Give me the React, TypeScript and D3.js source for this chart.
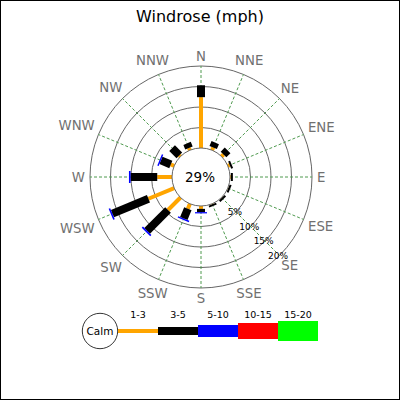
import React from 'react';
import * as d3 from 'd3';

const title = 'Windrose (mph)';
const directions = ['N', 'NNE', 'NE', 'ENE', 'E', 'ESE', 'SE', 'SSE', 'S', 'SSW', 'SW', 'WSW', 'W', 'WNW', 'NW', 'NNW'];
const rangeLabels = ['1-3', '3-5', '5-10', '10-15', '15-20'];
const rangeColors = ['#ffa500', '#000000', '#0000ff', '#ff0000', '#00ff00'];
const rangeWidths = [4, 8, 12, 16, 20];

// percent of time per direction, one list per speed range
const range1 = [12.4, 0.7, 0.7, 0.5, 0.2, 0.1, 0.1, 0.1, 0.7, 1.3, 4.3, 6.8, 3.6, 0.9, 0.4, 0.6];
const range2 = [2.9, 1.3, 1.4, 0.5, 0.5, 0.5, 0.5, 0.5, 0.8, 2.6, 7.2, 9.5, 6.5, 2.6, 2.5, 1.2];
const range3 = [0, 0, 0, 0, 0, 0, 0, 0, 0.3, 0.35, 0.4, 0.4, 0.4, 0.35, 0, 0];
const range4 = [0, 0, 0, 0, 0, 0, 0, 0, 0, 0, 0, 0, 0, 0, 0, 0];
const range5 = [0, 0, 0, 0, 0, 0, 0, 0, 0, 0, 0, 0, 0, 0, 0, 0];
const series = [range1, range2, range3, range4, range5];

const ringTicks = [5, 10, 15, 20];
const calmPct = 29;

// DejaVu Sans advance widths (em) for the compass letters
const charW: Record<string, number> = { N: 0.748, E: 0.632, S: 0.635, W: 0.989 };

const font = '"DejaVu Sans", Verdana, sans-serif';

const App: React.FC = () => {
  const width = 400;
  const height = 400;
  const cx = 201;
  const cy = 177;

  const r = d3.scaleLinear().domain([0, 20]).range([29, 111]);
  const angle = d3.scaleLinear().domain([0, directions.length]).range([0, 2 * Math.PI]);
  const pt = (rad: number, a: number): [number, number] => [cx + rad * Math.sin(a), cy - rad * Math.cos(a)];

  const legendX = d3.scaleLinear().domain([0, rangeLabels.length]).range([118, 318]);
  const legendY = 331;

  const labelFs = 13.3;
  const labelR = 116;

  const bars: React.ReactNode[] = [];
  directions.forEach((d, i) => {
    const a = angle(i);
    let cum = 0;
    series.forEach((s, k) => {
      const v = s[i];
      if (v <= 0) return;
      const [x1, y1] = pt(r(cum), a);
      const [x2, y2] = pt(r(cum + v), a);
      cum += v;
      bars.push(
        <line key={`${d}-${k}`} x1={x1} y1={y1} x2={x2} y2={y2}
          stroke={rangeColors[k]} strokeWidth={rangeWidths[k]} strokeLinecap="butt" />
      );
    });
  });

  return (
    <>
      <style>{`body{margin:0}`}</style>
      <svg width={width} height={height} style={{ display: 'block' }} fontFamily={font}>
        <rect x={0} y={0} width={width} height={height} fill="#fff" />
        <rect x={0.5} y={0.5} width={width - 1} height={height - 1} fill="none" stroke="#000" />

        <text x={200} y={21.5} textAnchor="middle" fontSize={16} fill="#000">{title}</text>

        {/* range circles */}
        {ringTicks.map(t => (
          <circle key={t} cx={cx} cy={cy} r={r(t)} fill="none" stroke="#666" strokeWidth={1} />
        ))}

        {/* radial grid */}
        {directions.map((d, i) => {
          const [x1, y1] = pt(r(0), angle(i));
          const [x2, y2] = pt(r(20), angle(i));
          return <line key={d} x1={x1} y1={y1} x2={x2} y2={y2} stroke="#4f9a4f" strokeWidth={1} strokeDasharray="3,2" />;
        })}

        {bars}

        {/* calm circle */}
        <circle cx={cx} cy={cy} r={r(0)} fill="#fff" stroke="#666" strokeWidth={1} />
        <text x={cx - 1} y={cy} dy="0.36em" textAnchor="middle" fontSize={13.5} fill="#000">{`${calmPct}%`}</text>

        {/* ring labels */}
        {ringTicks.map(t => {
          const [x, y] = pt(r(t) - 1, angle(6) + 0.01);
          return <text key={t} x={x} y={y} dy="0.36em" textAnchor="middle" fontSize={9} fill="#000">{`${t}%`}</text>;
        })}

        {/* compass labels */}
        {directions.map((d, i) => {
          const a = angle(i);
          const w = d.split('').reduce((s, c) => s + charW[c], 0) * labelFs;
          const h = labelFs * 0.73;
          const off = labelR + Math.abs(Math.sin(a)) * w / 2 + Math.abs(Math.cos(a)) * h / 2;
          const [x, y] = pt(off, a);
          return <text key={d} x={x} y={y} dy="0.36em" textAnchor="middle" fontSize={labelFs} fill="#707070">{d}</text>;
        })}

        {/* legend */}
        <circle cx={100} cy={legendY} r={17.7} fill="#fff" stroke="#000" strokeWidth={0.8} />
        <text x={100} y={legendY} dy="0.36em" textAnchor="middle" fontSize={10.5} fill="#000">Calm</text>
        {rangeLabels.map((l, k) => (
          <g key={l}>
            <line x1={legendX(k)} x2={legendX(k + 1)} y1={legendY} y2={legendY}
              stroke={rangeColors[k]} strokeWidth={rangeWidths[k]} />
            <text x={(legendX(k) + legendX(k + 1)) / 2} y={317.5} textAnchor="middle" fontSize={9.5} fill="#000">{l}</text>
          </g>
        ))}
      </svg>
    </>
  );
};

export default App;
